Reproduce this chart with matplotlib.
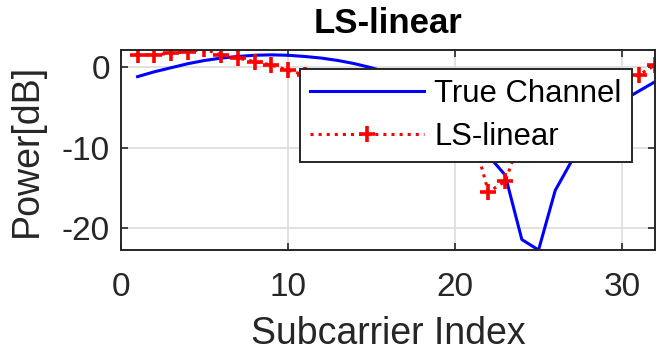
import matplotlib
matplotlib.use('Agg')
import matplotlib.pyplot as plt
import numpy as np

plt.rcParams['font.family'] = ['Liberation Sans', 'DejaVu Sans']
plt.rcParams['axes.unicode_minus'] = False

# subcarrier indices
subcarriers = np.arange(1, 33)

# power [dB] (parts under the legend are estimates)
true_channel = [-1.2, -0.6, -0.1, 0.4, 0.8, 1.1, 1.3, 1.45, 1.5, 1.45, 1.3, 1.1,
                0.8, 0.4, -0.1, -0.7, -1.5, -2.5, -4.0, -6.0, -8.5, -11.0, -13.4,
                -21.4, -22.7, -15.3, -11.6, -8.0, -5.8, -4.2, -3.0, -1.8]
ls_linear = [1.5, 1.5, 1.7, 1.9, 2.2, 1.5, 1.1, 0.66, 0.25, -0.4, -1.0, -1.3,
             -1.5, -1.8, -2.0, -2.3, -2.8, -3.5, -4.5, -6.0, -8.0, -15.5, -14.2,
             -8.5, -6.0, -4.5, -3.5, -2.8, -2.2, -1.6, -1.0, 0.25]

dark = '#262626'

fig = plt.figure(figsize=(6.57, 3.51), dpi=100)
ax = fig.add_axes([0.184, 0.2877, 0.8137, 0.5698])

ax.plot(subcarriers, true_channel, color='#0000ff', linewidth=2.2, label='True Channel')
ax.plot(subcarriers, ls_linear, color='#ff0000', linestyle=':', linewidth=2.2,
        marker='+', markersize=12, markeredgewidth=2.6, label='LS-linear')

ax.set_xlim(0, 32)
ax.set_ylim(-22.7, 2.1)
ax.set_xticks([0, 10, 20, 30])
ax.set_yticks([-20, -10, 0])
ax.grid(True, color='#dcdcdc', linewidth=1.2)
ax.set_axisbelow(True)

ax.tick_params(direction='in', top=True, right=True, length=5, width=1.2,
               colors=dark, labelsize=24)
ax.tick_params(axis='x', pad=16)
ax.tick_params(axis='y', pad=8)
for s in ax.spines.values():
    s.set_color(dark)
    s.set_linewidth(1.4)

ax.set_xlabel('Subcarrier Index', fontsize=27, color=dark, labelpad=9)
ax.set_ylabel('Power[dB]', fontsize=27, color=dark, labelpad=12)
ax.set_title('LS-linear', fontsize=25, fontweight='bold', pad=12)

leg = ax.legend(loc='upper right', bbox_to_anchor=(0.956, 0.905), fontsize=22.3,
                frameon=True, fancybox=False, framealpha=1, edgecolor=dark,
                handlelength=3.65, handletextpad=0.35, borderpad=0.33,
                labelspacing=0.4, borderaxespad=0)
leg.get_frame().set_linewidth(1.4)

fig.savefig('out.png', dpi=100)
